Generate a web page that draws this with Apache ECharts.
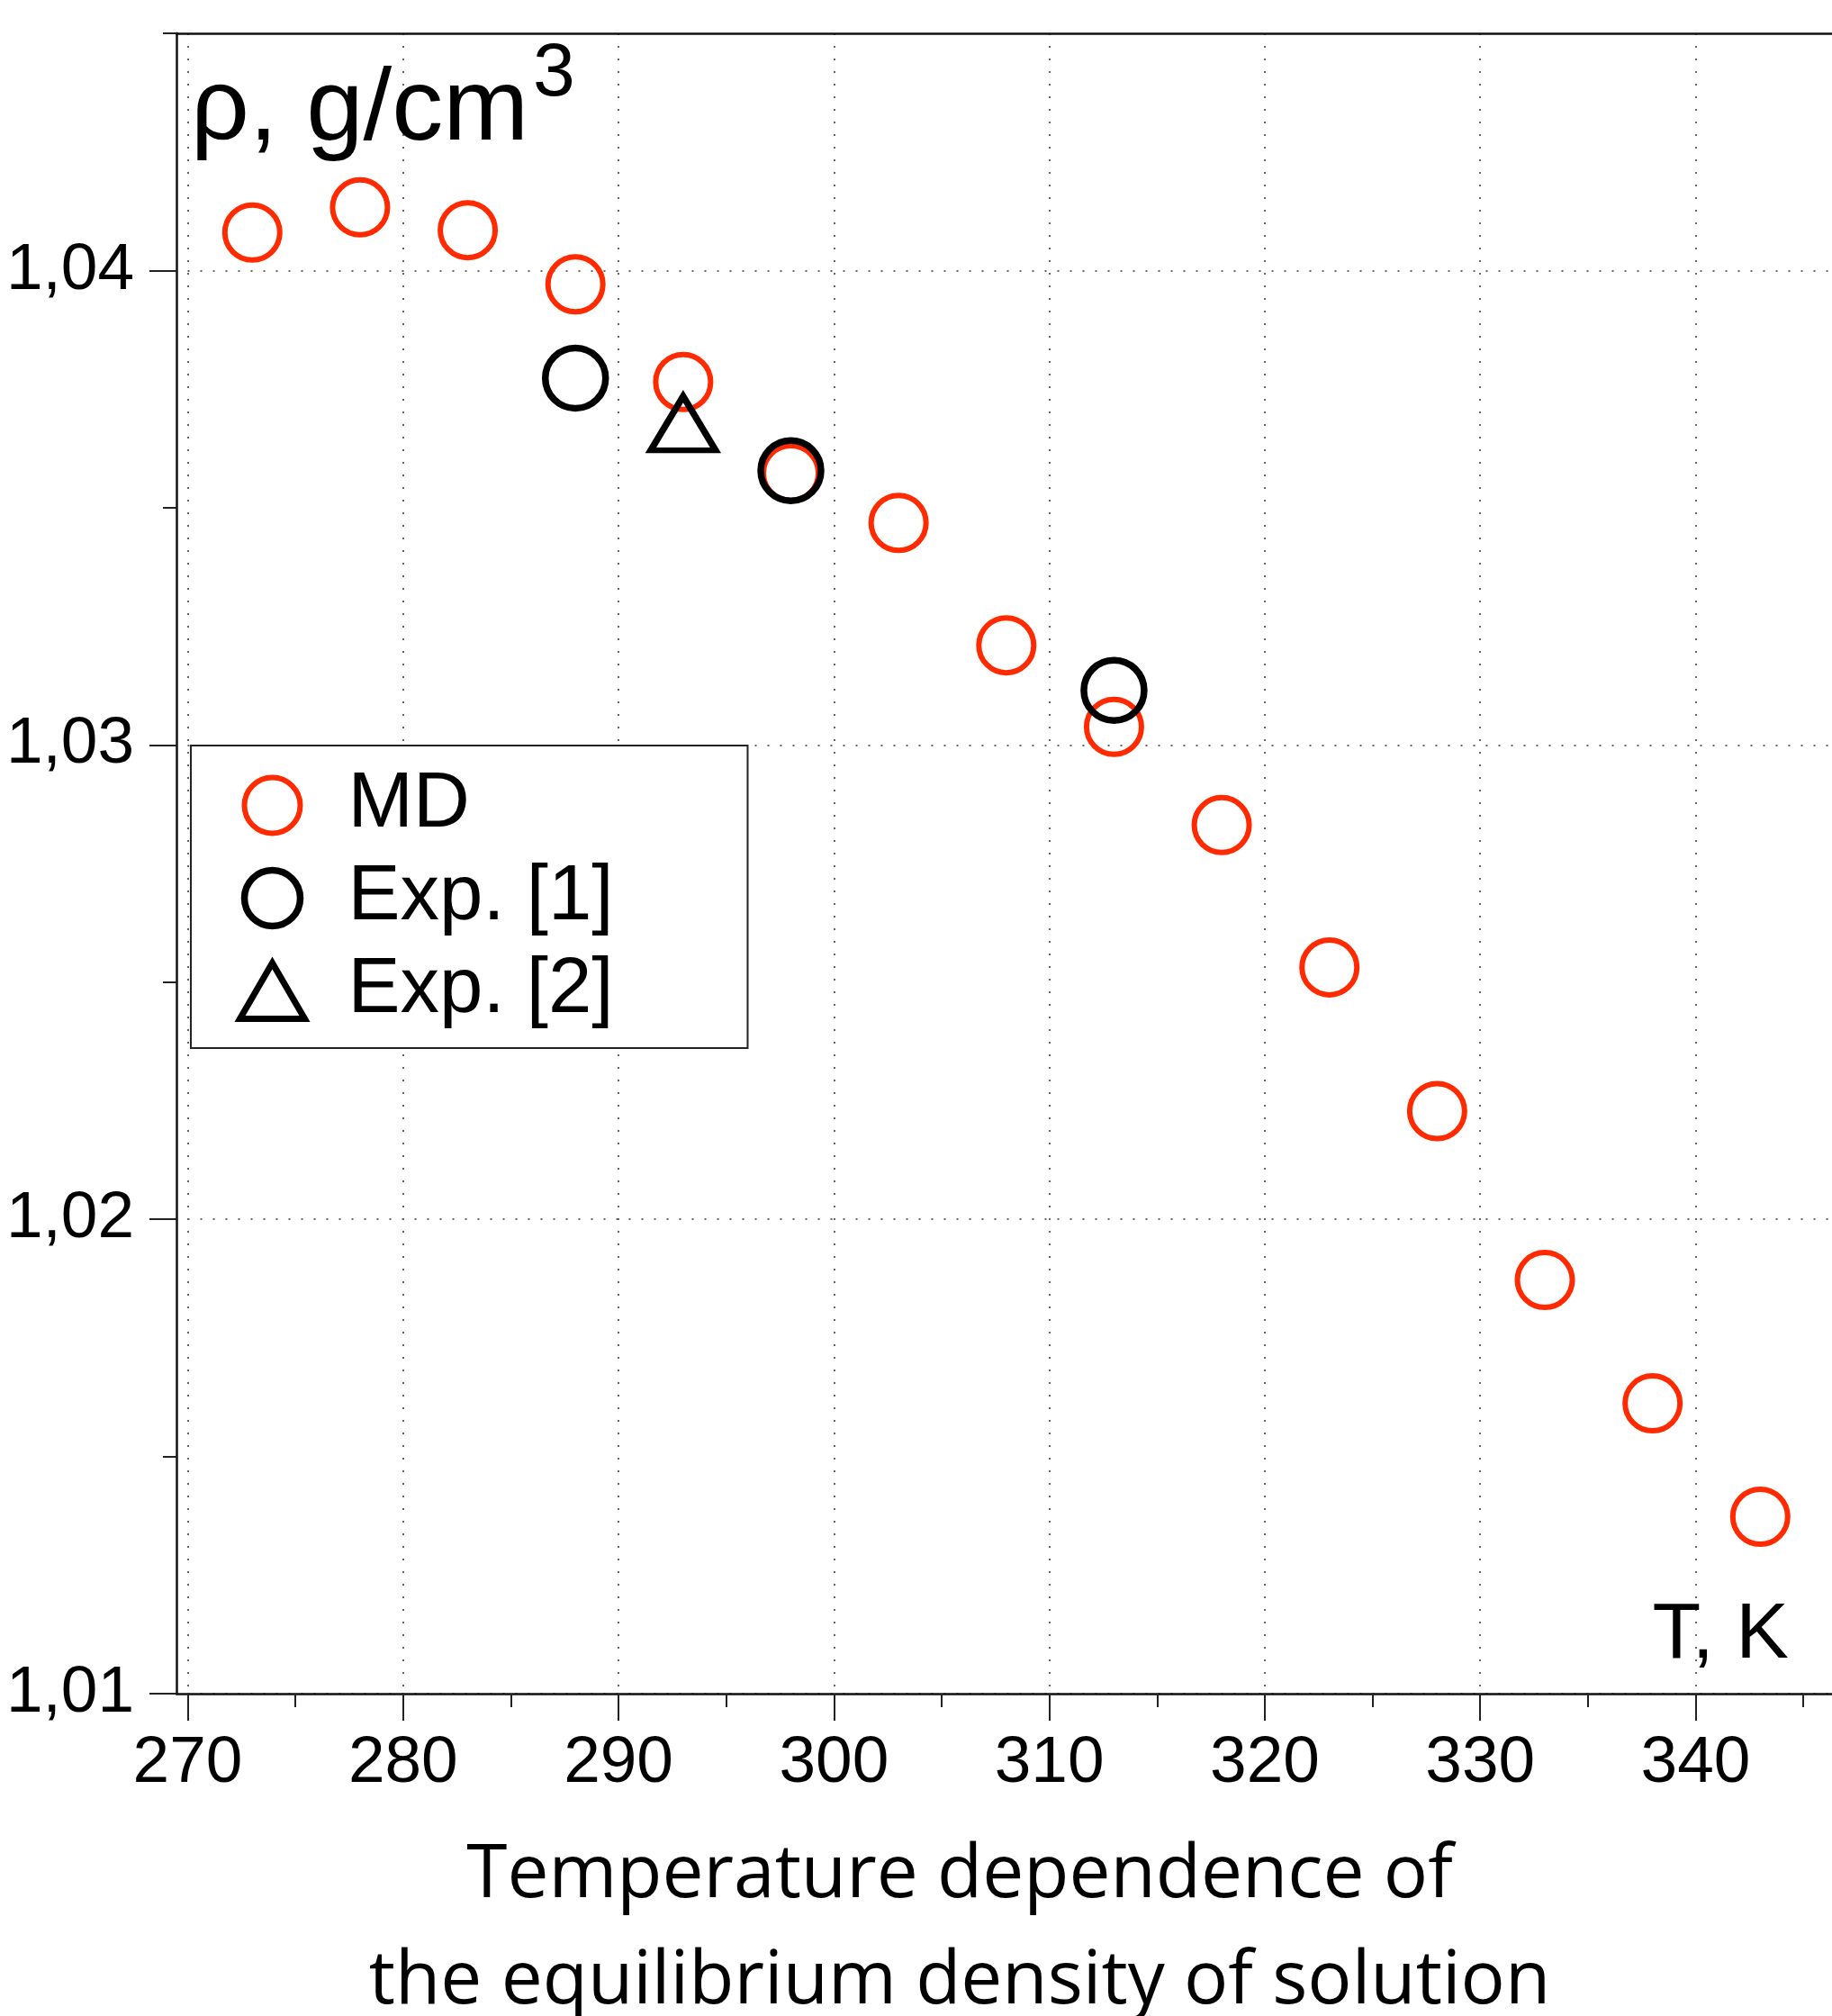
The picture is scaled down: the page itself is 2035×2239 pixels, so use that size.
<!DOCTYPE html>
<html>
<head>
<meta charset="utf-8">
<script src="https://cdn.jsdelivr.net/npm/echarts@6/dist/echarts.min.js"></script>
<style>
html,body{margin:0;padding:0;background:#fff;}
#chart{width:2035px;height:2239px;}
</style>
</head>
<body>
<div id="chart"></div>
<script>
// ---- data ----
const mdT   = [273, 278, 283, 288, 293, 298, 303, 308, 313, 318, 323, 328, 333, 338, 343];
const mdRho = [1.0408, 1.04133, 1.04085, 1.03971, 1.03765, 1.03573, 1.03468, 1.0321, 1.03038, 1.02831, 1.02531, 1.02228, 1.01872, 1.01612, 1.01373];
const exp1T   = [288, 298, 313];
const exp1Rho = [1.03773, 1.03578, 1.03115];
const exp2T   = [293];
const exp2Rho = [1.03678];
const xTicks = [270, 280, 290, 300, 310, 320, 330, 340];
const yTicks = [1.01, 1.02, 1.03, 1.04];
const seriesNames = ['MD', 'Exp. [1]', 'Exp. [2]'];
const yTitle = 'ρ, g/cm';
const yTitleSup = '3';
const xTitle = 'T, K';
const caption = 'Temperature dependence of\nthe equilibrium density of solution';

const zip = (a, b) => a.map((v, i) => [v, b[i]]);
const RED = '#ff2a00';
const FONT = 'Liberation Sans';
const gridDots = { color: '#666', width: 2, type: [2, 12] };

const chart = echarts.init(document.getElementById('chart'), null, { renderer: 'canvas' });
chart.setOption({
  animation: false,
  backgroundColor: '#fff',
  grid: [
    { left: 208.5, width: 1914.3, top: 37, bottom: 358, outerBoundsMode: 'none', containLabel: false },
    { left: 196, right: 0, top: 37, bottom: 358, outerBoundsMode: 'none', containLabel: false },
    { left: 208.5, width: 1914.3, top: 37, bottom: 358, outerBoundsMode: 'none', containLabel: false }
  ],
  xAxis: [
    { gridIndex: 0, type: 'value', min: 270, max: 350, interval: 10, position: 'bottom',
      axisLine: { show: false },
      axisTick: { show: true, inside: false, length: 30, lineStyle: { color: '#222', width: 2 } },
      axisLabel: { show: true, margin: 41, fontSize: 73, fontFamily: FONT, color: '#000',
        formatter: v => (xTicks.indexOf(v) >= 0 ? String(v) : '') },
      splitLine: { show: true, lineStyle: gridDots } },
    { gridIndex: 1, type: 'value', min: 0, max: 1, position: 'bottom',
      axisLine: { show: true, lineStyle: { color: '#111', width: 2.5 } },
      axisTick: { show: false }, axisLabel: { show: false }, splitLine: { show: false } },
    { gridIndex: 1, type: 'value', min: 0, max: 1, position: 'top',
      axisLine: { show: true, lineStyle: { color: '#111', width: 2.5 } },
      axisTick: { show: false }, axisLabel: { show: false }, splitLine: { show: false } },
    { gridIndex: 2, type: 'value', min: 270, max: 350, interval: 5, position: 'bottom',
      axisLine: { show: false },
      axisTick: { show: true, inside: false, length: 15, lineStyle: { color: '#222', width: 2 } },
      axisLabel: { show: false }, splitLine: { show: false } }
  ],
  yAxis: [
    { gridIndex: 0, type: 'value', min: 1.01, max: 1.045, interval: 0.01, position: 'left', offset: 12.5,
      axisLine: { show: true, lineStyle: { color: '#111', width: 2.5 } },
      axisTick: { show: true, inside: false, length: 30, customValues: yTicks, lineStyle: { color: '#222', width: 2 } },
      axisLabel: { show: true, margin: 47, fontSize: 73, fontFamily: FONT, color: '#000', customValues: yTicks,
        formatter: v => (Math.abs(v - 1.045) < 1e-6 ? '' : v.toFixed(2).replace('.', ',')) },
      splitLine: { show: true, lineStyle: gridDots } },
    { gridIndex: 1, type: 'value', min: 0, max: 1, show: false },
    { gridIndex: 2, type: 'value', min: 1.01, max: 1.045, interval: 0.005, position: 'left', offset: 12.5,
      axisLine: { show: false },
      axisTick: { show: true, inside: false, length: 15, lineStyle: { color: '#222', width: 2 } },
      axisLabel: { show: false }, splitLine: { show: false } }
  ],
  legend: {
    orient: 'vertical', left: 212, top: 828,
    padding: [23, 149, 20, 51],
    itemWidth: 72, itemHeight: 62, itemGap: 16,
    backgroundColor: '#fff', borderColor: '#222', borderWidth: 2, borderRadius: 0,
    selectedMode: false,
    textStyle: { fontSize: 87, fontFamily: FONT, color: '#000', lineHeight: 87, padding: [0, 0, 0, 43] },
    data: [
      { name: seriesNames[0], icon: 'circle', itemStyle: { color: 'rgba(0,0,0,0)', borderColor: RED, borderWidth: 6 } },
      { name: seriesNames[1], icon: 'circle', itemStyle: { color: 'rgba(0,0,0,0)', borderColor: '#000', borderWidth: 7.5 } },
      { name: seriesNames[2], icon: 'triangle', itemStyle: { color: 'rgba(0,0,0,0)', borderColor: '#000', borderWidth: 7 } }
    ]
  },
  series: [
    { name: seriesNames[0], type: 'scatter', xAxisIndex: 0, yAxisIndex: 0, symbol: 'circle', symbolSize: 61,
      itemStyle: { color: 'rgba(0,0,0,0)', borderColor: RED, borderWidth: 6, opacity: 1 },
      emphasis: { disabled: true }, data: zip(mdT, mdRho), z: 3 },
    { name: seriesNames[1], type: 'scatter', xAxisIndex: 0, yAxisIndex: 0, symbol: 'circle', symbolSize: 67,
      itemStyle: { color: 'rgba(0,0,0,0)', borderColor: '#000', borderWidth: 7.5, opacity: 1 },
      emphasis: { disabled: true }, data: zip(exp1T, exp1Rho), z: 4 },
    { name: seriesNames[2], type: 'scatter', xAxisIndex: 0, yAxisIndex: 0, symbol: 'triangle', symbolSize: [72, 60],
      itemStyle: { color: 'rgba(0,0,0,0)', borderColor: '#000', borderWidth: 7, opacity: 1 },
      emphasis: { disabled: true }, data: zip(exp2T, exp2Rho), z: 5 }
  ],
  graphic: [
    { type: 'text', x: 212, y: 124, z: 100,
      style: { text: yTitle, fontSize: 114, fontFamily: FONT, fill: '#000', align: 'left', verticalAlign: 'middle' } },
    { type: 'text', x: 592, y: 83, z: 100,
      style: { text: yTitleSup, fontSize: 84, fontFamily: FONT, fill: '#000', align: 'left', verticalAlign: 'middle' } },
    { type: 'text', x: 1987, y: 1817, z: 100,
      style: { text: xTitle, fontSize: 88, fontFamily: FONT, fill: '#000', align: 'right', verticalAlign: 'middle' } },
    { type: 'text', x: 1066, y: 2143, z: 100,
      style: { text: caption, fontSize: 82, lineHeight: 118, fontFamily: 'Open Sans', fill: '#000', align: 'center', verticalAlign: 'middle' } }
  ]
});
</script>
</body>
</html>
